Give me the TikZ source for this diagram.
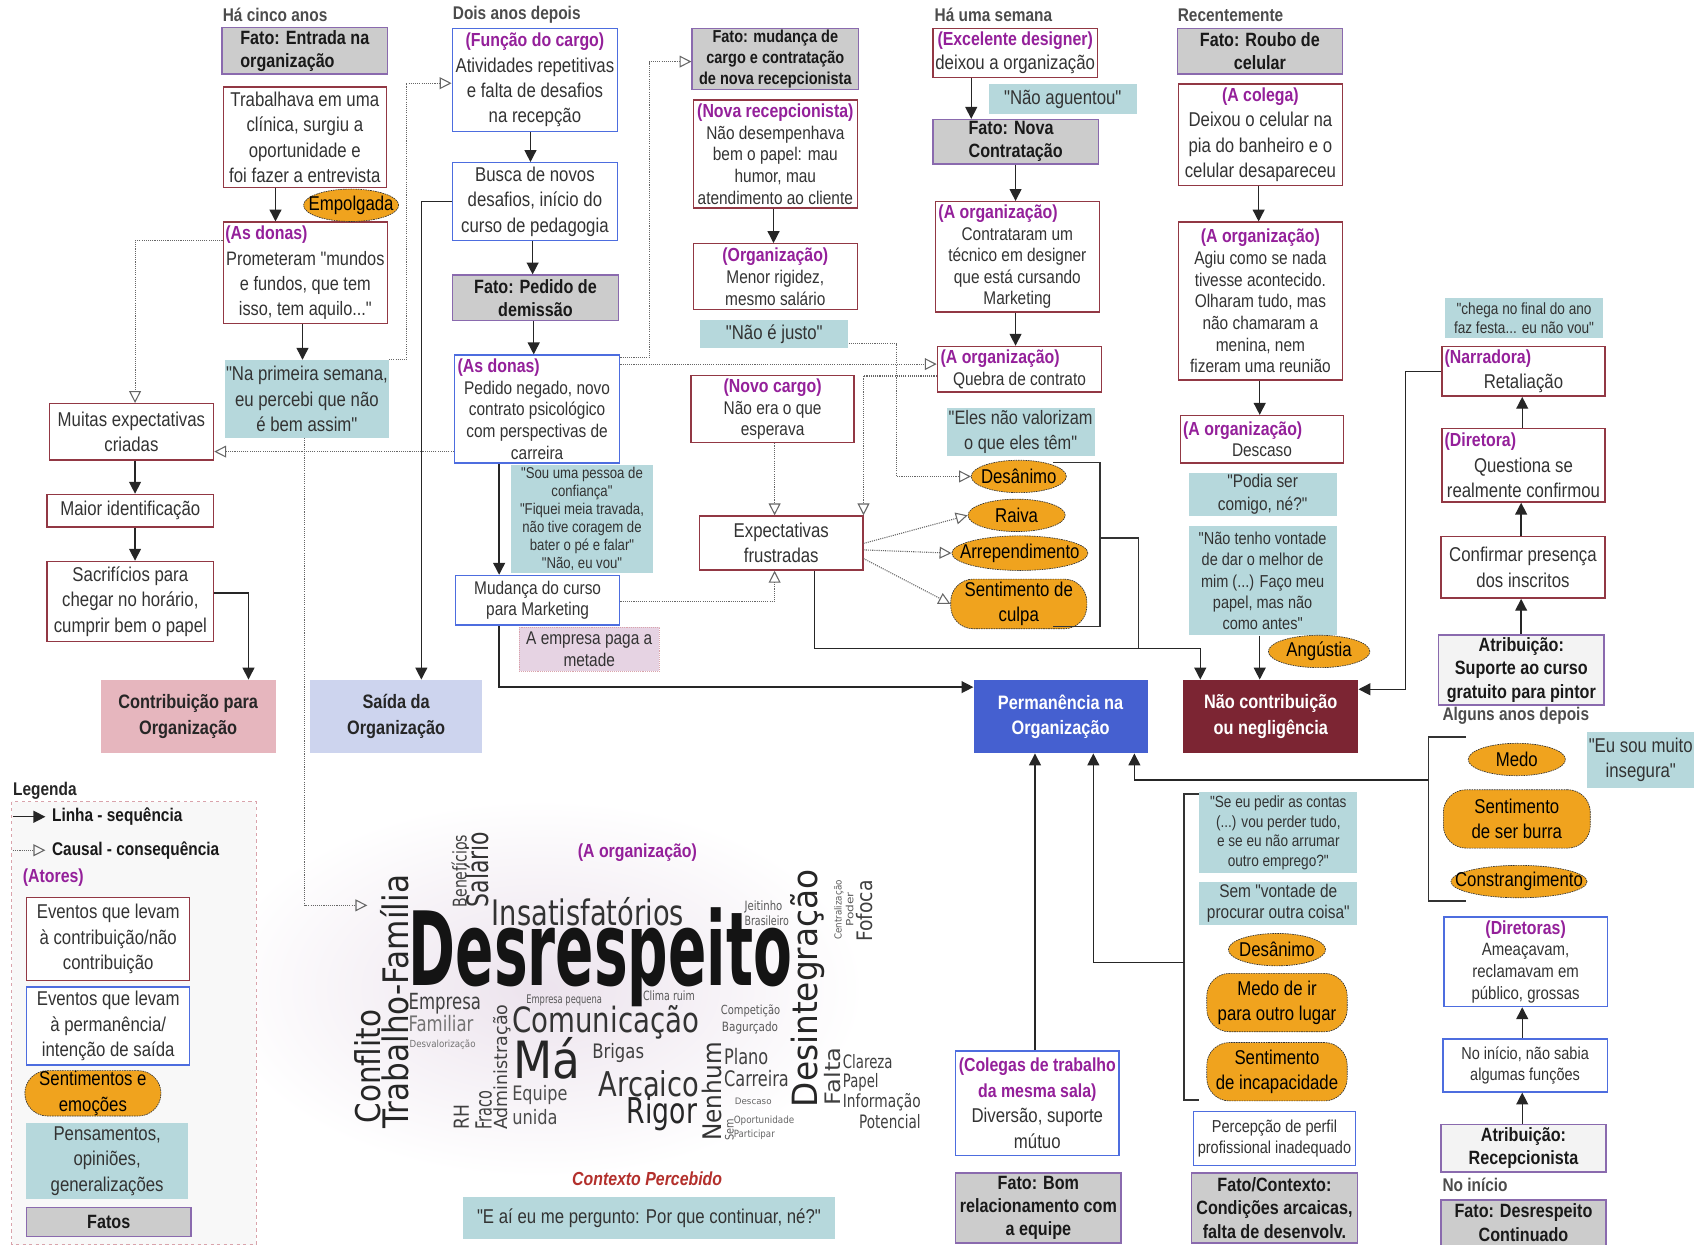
\documentclass[tikz,border=0pt]{standalone}
\usepackage{fontspec}
\usepackage{graphicx}
\setmainfont{Liberation Sans}[FakeStretch=0.84, Ligatures=TeXOff]
\newfontfamily\cloudfont{DejaVu Sans}
\usetikzlibrary{arrows.meta,shapes.geometric,positioning}

\definecolor{txt}{HTML}{333333}
\definecolor{evred}{HTML}{923844}
\definecolor{evblue}{HTML}{4D6DDF}
\definecolor{actor}{HTML}{94209A}
\definecolor{fatogray}{HTML}{CCCCCC}
\definecolor{fatoline}{HTML}{8A6AAE}
\definecolor{atribgray}{HTML}{F3F3F3}
\definecolor{pensteal}{HTML}{B6D8DC}
\definecolor{sentorange}{HTML}{F0A31E}
\definecolor{permblue}{HTML}{4560D0}
\definecolor{naored}{HTML}{7C2533}
\definecolor{contribpink}{HTML}{E6B6BE}
\definecolor{saidablue}{HTML}{CDD4EE}
\definecolor{pagapink}{HTML}{E6D3E3}
\definecolor{legline}{HTML}{D9A3AB}
\definecolor{legfill}{HTML}{F8F8F8}
\definecolor{contexto}{HTML}{B3302C}
\definecolor{glow}{HTML}{ECE3ED}

\newcommand{\fnorm}{\fontsize{18.5}{23.5}\selectfont}
\newcommand{\fsmall}{\fontsize{17}{20}\selectfont}
\newcommand{\ftiny}{\fontsize{14.5}{16.8}\selectfont}
\newcommand{\fbold}{\fontsize{17.8}{21.5}\selectfont\bfseries}
\newcommand{\fboldsm}{\fontsize{16}{19}\selectfont\bfseries}
\newcommand{\act}[1]{{\fontsize{17.5}{21}\selectfont\color{actor}\bfseries #1}}
\newcommand{\actl}[2][146]{\makebox[#1pt][l]{\act{#2}}}
\newcommand{\sentxt}[1]{\makebox[0pt]{#1}}
\newcommand{\cw}[3]{\resizebox{#1pt}{#2pt}{\cloudfont #3}}

\tikzset{
  every node/.style={text=txt, inner sep=1pt},
  sz/.style 2 args={minimum width=#1pt, minimum height=#2pt, anchor=north west},
  esz/.style 2 args={minimum width=#1pt, minimum height=#2pt},
  evred/.style={draw=evred, line width=1.3pt, fill=white, align=center, font=\fnorm},
  evblue/.style={draw=evblue, line width=1.3pt, fill=white, align=center, font=\fnorm},
  fato/.style={draw=fatoline, line width=1.3pt, fill=fatogray, align=center, font=\fbold, text=black!90},
  atrib/.style={fato, fill=atribgray},
  pens/.style={fill=pensteal, align=center, font=\fnorm},
  paga/.style={fill=pagapink, draw=legline, densely dotted, line width=0.8pt, align=center, font=\fsmall},
  sent/.style={ellipse, draw=black!80, line width=0.6pt, dash pattern=on 1.5pt off 0.8pt,
    fill=sentorange, text=black, font=\fnorm, inner sep=0pt},
  sentb/.style={sent, rectangle, rounded corners=21pt, align=center},
  result/.style={align=center, font=\fontsize{18}{23.5}\selectfont\bfseries, text=black!85},
  tlabel/.style={anchor=west, font=\fontsize{17}{20}\selectfont\bfseries, text=black!70},
  cloud/.style={anchor=base west, inner sep=0pt},
  seq/.style={draw=black!85, line width=1.3pt, -{Triangle[length=11pt,width=11pt]}},
  causal/.style={draw=black!60, line width=1pt, densely dotted, -{Triangle[open,length=11pt,width=11pt]}},
  brack/.style={draw=black!80, line width=1.3pt}
}

\begin{document}
\begin{tikzpicture}[x=1pt,y=-1pt]
\useasboundingbox (0,0) rectangle (1568,1152);

% fundo da nuvem de palavras
\shade[inner color=glow, outer color=white] (500,915) ellipse [x radius=300pt, y radius=175pt];

% legenda
\node[tlabel, text=black!85] (lbllegenda) at (11,732) {Legenda};
\draw[legline, dashed, line width=0.8pt, fill=legfill] (11,742) rectangle (237,1152);
\node[anchor=west, font=\fontsize{17}{20}\selectfont\bfseries, text=black!90] (lgseq) at (47,756) {Linha - sequência};
\node[anchor=west, font=\fontsize{17}{20}\selectfont\bfseries, text=black!90] (lgcausal) at (47,787) {Causal - consequência};
\coordinate (lgs) at (12,756);
\coordinate (lgc) at (12,787);
\draw[seq] (lgs) -- ([xshift=-5pt]lgseq.west);
\draw[causal] (lgc) -- ([xshift=-5pt]lgcausal.west);
\node[anchor=west, font=\fontsize{17.5}{21}\selectfont\bfseries, text=actor] (lgatores) at (20,812) {(Atores)};
\node[evred, sz={151}{77}] (lgred) at (24,830) {Eventos que levam\\à contribuição/não\\contribuição};
\node[evblue, sz={151}{72}] (lgblue) at (24,913) {Eventos que levam\\à permanência/\\intenção de saída};
\node[sentb, esz={126}{42}] (lgsent) at (86,1012) {Sentimentos e\\emoções};
\node[pens, sz={150}{71}] (lgpens) at (24,1039) {Pensamentos,\\opiniões,\\generalizações};
\node[fato, sz={152}{27}] (lgfato) at (24,1117) {Fatos};

% ha cinco anos
\node[tlabel] (lblcinco) at (205,14) {Há cinco anos};
\node[fato, sz={153}{43}, align=left] (fentrada) at (205,25) {Fato: Entrada na\\organização};
\node[evred, sz={151}{93}] (trab) at (206,80) {Trabalhava em uma\\clínica, surgiu a\\oportunidade e\\foi fazer a entrevista};
\node[evred, sz={152}{94}, font=\fontsize{18}{23.5}\selectfont] (donas1) at (206,205) {\actl[148]{(As donas)}\\Prometeram "mundos\\e fundos, que tem\\isso, tem aquilo..."};
\node[sent, esz={88}{30}] (empolg) at (325,190) {\sentxt{Empolgada}};
\node[pens, sz={150}{72}] (prim) at (208,333) {"Na primeira semana,\\eu percebi que não\\é bem assim"};
\node[evred, sz={152}{52}] (muitas) at (45,373) {Muitas expectativas\\criadas};
\node[evred, sz={154}{30}] (maior) at (43,457) {Maior identificação};
\node[evred, sz={154}{74}] (sacr) at (43,519) {Sacrifícios para\\chegar no horário,\\cumprir bem o papel};
\node[result, fill=contribpink, sz={162}{68}] (contrib) at (93,629) {Contribuição para\\Organização};
\node[result, fill=saidablue, sz={159}{68}] (saida) at (287,629) {Saída da\\Organização};

% dois anos depois
\node[tlabel] (lbldois) at (418,14) {Dois anos depois};
\node[evblue, sz={153}{95}] (funcao) at (418,26) {\act{(Função do cargo)}\\Atividades repetitivas\\e falta de desafios\\na recepção};
\node[evblue, sz={153}{72}] (busca) at (418,150) {Busca de novos\\desafios, início do\\curso de pedagogia};
\node[fato, sz={154}{42}] (pedido) at (418,254) {Fato: Pedido de\\demissão};
\node[evblue, sz={153}{100}, font=\fsmall] (donas2) at (420,328) {\actl[147]{(As donas)}\\Pedido negado, novo\\contrato psicológico\\com perspectivas de\\carreira};
\node[pens, sz={131}{100}, font=\ftiny, inner sep=0pt] (confia) at (473,430) {"Sou uma pessoa de\\confiança"\\"Fiquei meia travada,\\não tive coragem de\\bater o pé e falar"\\"Não, eu vou"};
\node[evblue, sz={152}{46}, font=\fsmall] (mudanca) at (421,532) {Mudança do curso\\para Marketing};
\node[paga, sz={130}{41}] (paga) at (480,580) {A empresa paga a\\metade};

% mudanca de cargo
\node[fato, sz={154}{56}, font=\fboldsm] (fmudanca) at (640,26) {Fato: mudança de\\cargo e contratação\\de nova recepcionista};
\node[evred, sz={152}{100}, font=\fsmall] (novarec) at (641,92) {\act{(Nova recepcionista)}\\Não desempenhava\\bem o papel: mau\\humor, mau\\atendimento ao cliente};
\node[evred, sz={152}{61}, font=\fsmall] (orgz) at (641,225) {\act{(Organização)}\\Menor rigidez,\\mesmo salário};
\node[pens, sz={137}{26}] (justo) at (648,296) {"Não é justo"};
\node[evred, sz={151}{62}, font=\fsmall] (novocargo) at (639,347) {\act{(Novo cargo)}\\Não era o que\\esperava};
\node[evred, sz={151}{50}] (expect) at (647,477) {Expectativas\\frustradas};
\node[pens, sz={137}{45}, font=\fontsize{18}{23}\selectfont] (eles) at (876,377) {"Eles não valorizam\\o que eles têm"};
\node[sent, esz={88}{30}] (desan1) at (943,441) {\sentxt{Desânimo}};
\node[sent, esz={90}{30}] (raiva) at (941,477) {\sentxt{Raiva}};
\node[sent, esz={126}{32}] (arrep) at (944,512) {\sentxt{Arrependimento}};
\node[sentb, esz={126}{46}] (culpa) at (943,559) {Sentimento de\\culpa};

% ha uma semana
\node[tlabel] (lblsemana) at (864,14) {Há uma semana};
\node[evred, sz={152}{45}, font=\fontsize{18.5}{22}\selectfont] (excel) at (863,26) {\act{(Excelente designer)}\\deixou a organização};
\node[pens, sz={137}{27}] (aguent) at (915,78) {"Não aguentou"};
\node[fato, sz={153}{41}, align=left] (fnova) at (863,110) {Fato: Nova\\Contratação};
\node[evred, sz={152}{102}, font=\fsmall] (contrat) at (865,186) {\actl{(A organização)}\\Contrataram um\\técnico em designer\\que está cursando\\Marketing};
\node[evred, sz={152}{42}, font=\fsmall] (quebra) at (867,320) {\actl{(A organização)}\\Quebra de contrato};

% recentemente
\node[tlabel] (lblrecente) at (1089,14) {Recentemente};
\node[fato, sz={153}{42}] (froubo) at (1089,26) {Fato: Roubo de\\celular};
\node[evred, sz={152}{94}] (colega) at (1090,77) {\act{(A colega)}\\Deixou o celular na\\pia do banheiro e o\\celular desapareceu};
\node[evred, sz={152}{146}, font=\fsmall] (agiu) at (1090,205) {\act{(A organização)}\\Agiu como se nada\\tivesse acontecido.\\Olharam tudo, mas\\não chamaram a\\menina, nem\\fizeram uma reunião};
\node[evred, sz={151}{44}, font=\fsmall] (descaso) at (1092,384) {\actl{(A organização)}\\Descaso};
\node[pens, sz={137}{39}, font=\fontsize{17}{21}\selectfont] (podia) at (1100,438) {"Podia ser\\comigo, né?"};
\node[pens, sz={137}{101}, font=\fontsize{16}{19.7}\selectfont] (vontade) at (1100,487) {"Não tenho vontade\\de dar o melhor de\\mim (...) Faço meu\\papel, mas não\\como antes"};
\node[sent, esz={94}{30}] (angust) at (1221,603) {\sentxt{Angústia}};
\node[result, fill=permblue, text=white, sz={161}{68}] (perm) at (901,629) {Permanência na\\Organização};
\node[result, fill=naored, text=white, sz={162}{68}] (naocont) at (1095,629) {Não contribuição\\ou negligência};

% alguns anos depois
\node[pens, sz={147}{37}, font=\fontsize{15}{18}\selectfont] (chega) at (1337,276) {"chega no final do ano\\faz festa... eu não vou"};
\node[evred, sz={151}{46}] (narr) at (1334,320) {\actl{(Narradora)}\\Retaliação};
\node[evred, sz={151}{68}] (diret) at (1334,396) {\actl{(Diretora)}\\Questiona se\\realmente confirmou};
\node[evred, sz={152}{57}] (confirm) at (1333,496) {Confirmar presença\\dos inscritos};
\node[atrib, sz={153}{65}] (asup) at (1331,587) {Atribuição:\\Suporte ao curso\\gratuito para pintor};
\node[tlabel] (lblalguns) at (1334,663) {Alguns anos depois};

% no inicio
\node[sent, esz={90}{30}] (medo) at (1404,703) {\sentxt{Medo}};
\node[sentb, esz={136}{54}] (burra) at (1404,758) {Sentimento\\de ser burra};
\node[sent, esz={126}{30}] (constr) at (1406,816) {\sentxt{Constrangimento}};
\node[pens, sz={99}{52}] (inseg) at (1469,677) {"Eu sou muito\\insegura"};
\node[evblue, sz={151}{83}, font=\fontsize{16.5}{20}\selectfont] (diretoras) at (1336,848) {\act{(Diretoras)}\\Ameaçavam,\\reclamavam em\\público, grossas};
\node[evblue, sz={152}{49}, font=\fontsize{16}{20}\selectfont] (noinicio) at (1335,961) {No início, não sabia\\algumas funções};
\node[atrib, sz={153}{44}] (arec) at (1333,1040) {Atribuição:\\Recepcionista};
\node[tlabel] (lblinicio) at (1334,1097) {No início};
\node[fato, sz={153}{42}] (fdesr) at (1333,1110) {Fato: Desrespeito\\Continuado};

% contexto
\node[pens, sz={146}{75}, font=\fontsize{15}{18}\selectfont] (contas) at (1110,733) {"Se eu pedir as contas\\(...) vou perder tudo,\\e se eu não arrumar\\outro emprego?"};
\node[pens, sz={146}{40}, font=\fontsize{17}{20}\selectfont] (semvont) at (1110,816) {Sem "vontade de\\procurar outra coisa"};
\node[sent, esz={90}{30}] (desan2) at (1182,879) {\sentxt{Desânimo}};
\node[sentb, esz={130}{54}] (medoir) at (1182,928) {Medo de ir\\para outro lugar};
\node[sentb, esz={130}{54}] (incap) at (1182,992) {Sentimento\\de incapacidade};
\node[evblue, sz={150}{50}, font=\fontsize{16}{20}\selectfont] (perfil) at (1104,1028) {Percepção de perfil\\profissional inadequado};
\node[fato, sz={154}{65}] (fcond) at (1102,1085) {Fato/Contexto:\\Condições arcaicas,\\falta de desenvolv.};
\node[evblue, sz={151}{97}] (colegas) at (884,972) {\act{(Colegas de trabalho}\\\act{da mesma sala)}\\Diversão, suporte\\mútuo};
\node[fato, sz={153}{65}] (fbom) at (884,1085) {Fato: Bom\\relacionamento com\\a equipe};

% nuvem de palavras
\node[font=\fontsize{17.5}{21}\selectfont\bfseries, text=actor] (cloudorg) at (590,789) {(A organização)};
\node[cloud, text=black!92] (desrespeito) at (378,912) {\cw{355}{72}{\bfseries Desrespeito}};
\foreach \cwx/\cwy/\cww/\cwh/\cwr/\cws/\cwt [count=\i] in {
  455/857/178/26/0/80/Insatisfatórios, 378/934/67/15/0/75/Empresa,
  378/955/60/15/0/55/Familiar, 379/970/61/7/0/55/Desvalorização,
  487/929/70/8/0/65/Empresa pequena, 595/926/48/9/0/65/Clima ruim,
  474/956/173/25/0/80/Comunicação, 475/998/62/38/0/85/Má,
  548/980/48/14/0/75/Brigas, 474/1019/51/14/0/70/Equipe,
  474/1041/42/14/0/70/unida, 554/1015/93/24/0/80/Arcaico,
  580/1040/65/25/0/85/Rigor, 667/939/55/9/0/65/Competição,
  668/955/52/9/0/65/Bagurçado, 670/985/41/15/0/75/Plano,
  670/1006/60/15/0/75/Carreira, 680/1022/34/6/0/60/Descaso,
  679/1040/56/7/0/60/Oportunidade, 679/1053/38/7/0/60/Participar,
  689/843/35/9/0/65/Jeitinho, 689/857/41/9/0/65/Brasileiro,
  780/989/46/13/0/75/Clareza, 780/1007/33/13/0/75/Papel,
  780/1025/72/13/0/75/Informação, 795/1045/57/13/0/75/Potencial,
  452/840/70/22/90/80/Salário, 432/840/67/14/90/75/Benefícios,
  378/1045/235/26/90/85/Trabalho-Família, 352/1040/105/24/90/85/Conflito,
  470/1046/116/13/90/75/Administração, 455/1046/36/15/90/75/Fraco,
  434/1046/23/14/90/75/RH, 668/1056/91/18/90/80/Nenhum,
  679/1056/20/8/90/65/Sem, 757/1025/220/25/90/85/Desintegração,
  778/1023/53/15/90/75/Falta, 779/870/55/7/90/65/Centralização,
  790/858/32/7/90/65/Poder, 808/872/57/15/90/75/Fofoca}
  \node[cloud, rotate=\cwr, text=black!\cws] (cw-\i) at (\cwx,\cwy) {\cw{\cww}{\cwh}{\cwt}};
\coordinate (cloudin) at (340,838);
\node[font=\fontsize{17.5}{21}\selectfont\bfseries\itshape, text=contexto] (contexto) at (599,1091) {Contexto Percebido};
\node[pens, sz={345}{39}] (continuar) at (428,1108) {"E aí eu me pergunto: Por que continuar, né?"};

% linhas de sequencia
\draw[seq] (trab.south -| 255,0) -- (donas1.north -| 255,0);
\draw[seq] (donas1.south -| 280,0) -- (prim.north -| 280,0);
\draw[seq] (muitas.south -| 125,0) -- (maior.north -| 125,0);
\draw[seq] (maior.south -| 125,0) -- (sacr.north -| 125,0);
\draw[seq] (sacr.east |- 0,549) -| (contrib.north -| 230,0);
\draw[seq] (busca.west) -| (saida.north -| 390,0);
\draw[seq] (funcao.south -| 491,0) -- (busca.north -| 491,0);
\draw[seq] (busca.south -| 493,0) -- (pedido.north -| 493,0);
\draw[seq] (pedido.south -| 494,0) -- (donas2.north -| 494,0);
\draw[seq] (donas2.south -| 462,0) -- (mudanca.north -| 462,0);
\draw[seq] (mudanca.south -| 462,0) |- (perm.west |- 0,636);
\draw[seq] (novarec.south -| 716,0) -- (orgz.north -| 716,0);
\draw[seq] (excel.south -| 899,0) -- (fnova.north -| 899,0);
\draw[seq] (fnova.south -| 940,0) -- (contrat.north -| 940,0);
\draw[seq] (contrat.south -| 940,0) -- (quebra.north -| 940,0);
\draw[seq] (colega.south -| 1165,0) -- (agiu.north -| 1165,0);
\draw[seq] (agiu.south -| 1166,0) -- (descaso.north -| 1166,0);
\draw[seq] (vontade.south -| 1166,0) -- (naocont.north -| 1166,0);
\draw[seq] (expect.south -| 754,0) |- (1111,600) -- (naocont.north -| 1111,0);
\draw[brack] (975,428) -| (1018,580) -- (975,580);
\draw[brack] (1018,498) -| (1054,600);
\draw[seq] (narr.west) -| (1301,638) -- (naocont.east |- 0,638);
\draw[seq] (diret.north -| 1409,0) -- (narr.south -| 1409,0);
\draw[seq] (confirm.north -| 1408,0) -- (diret.south -| 1408,0);
\draw[seq] (asup.north -| 1408,0) -- (confirm.south -| 1408,0);
\draw[brack] (1357,682) -| (1322,834) -- (1357,834);
\draw[seq] (1322,722) -| (perm.south -| 1050,0);
\draw[seq] (colegas.north -| 958,0) -- (perm.south -| 958,0);
\draw[brack] (1110,735) -| (1096,1018) -- (1110,1018);
\draw[seq] (1096,891) -| (perm.south -| 1012,0);
\draw[seq] (noinicio.north -| 1409,0) -- (diretoras.south -| 1409,0);
\draw[seq] (arec.north -| 1409,0) -- (noinicio.south -| 1409,0);

% linhas causais
\draw[causal] (donas1.west |- 0,223) -| (muitas.north -| 125,0);
\draw[causal] (prim.north east) -- ++(16,0) |- (funcao.west |- 0,77);
\draw[causal] (donas2.west |- 0,418) -- (muitas.east |- 0,418);
\draw[causal] (prim.south -| 282,0) |- (cloudin);
\draw[causal] (donas2.east |- 0,331) -| (601,57) -- (fmudanca.west |- 0,57);
\draw[causal] (donas2.east |- 0,337) -- (quebra.west |- 0,337);
\draw[causal] (justo.east |- 0,318) -| (830,441) -- (desan1.west);
\draw[causal] (quebra.west |- 0,348) -| (expect.north east);
\draw[causal] (novocargo.south -| 717,0) -- (expect.north -| 717,0);
\draw[causal] (mudanca.east |- 0,557) -| (expect.south -| 717,0);
\draw[causal] (expect.east |- 0,503) -- (raiva.west);
\draw[causal] (expect.east |- 0,509) -- (arrep.west);
\draw[causal] (expect.east |- 0,517) -- (culpa.west);
\end{tikzpicture}
\end{document}
